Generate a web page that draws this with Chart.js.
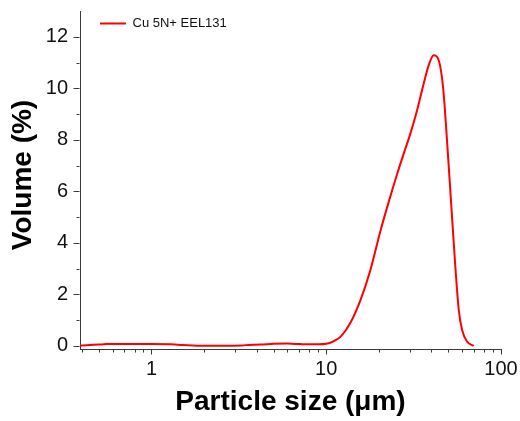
<!DOCTYPE html>
<html>
<head>
<meta charset="utf-8">
<script src="https://cdn.jsdelivr.net/npm/chart.js@4/dist/chart.umd.min.js"></script>
<style>
html,body{margin:0;padding:0;background:#fff;}
#wrap{position:relative;width:520px;height:421px;}
</style>
</head>
<body>
<div id="wrap"><canvas id="c"></canvas></div>
<script>
// Particle size (µm) and volume (%)
const sizes = [0.39, 0.5, 0.55, 0.7, 1.0, 1.3, 1.5, 2.0, 2.5, 3.3, 3.6, 4.2, 5.0, 6.0, 7.1, 8.0, 9.0, 10.0, 11.0, 12.1, 13.7, 15.7, 17.9, 20.4, 22.8, 25.5, 28.0, 30.3, 33.1, 36.1, 38.6, 41.2, 44.0, 46.6, 49.1, 52.0, 54.8, 57.3, 59.9, 63.9, 69.8];
const volume = [0.02, 0.05, 0.07, 0.07, 0.07, 0.06, 0.04, 0.01, 0.01, 0.02, 0.04, 0.05, 0.08, 0.09, 0.07, 0.06, 0.06, 0.08, 0.18, 0.36, 0.88, 1.78, 2.95, 4.45, 5.6, 6.69, 7.54, 8.24, 9.15, 10.18, 10.9, 11.28, 11.09, 10.05, 7.98, 5.4, 3.07, 1.4, 0.62, 0.17, 0.0];
const seriesName = 'Cu 5N+ EEL131';
const yTitle = 'Volume (%)';
const xTitle = 'Particle size (μm)';

const xMajorTicks = [1, 10, 100];
const xMinorTicks = [0.4, 0.5, 0.6, 0.7, 0.8, 0.9, 2, 3, 4, 5, 6, 7, 8, 9, 20, 30, 40, 50, 60, 70, 80, 90];
const yMajorTicks = [0, 2, 4, 6, 8, 10, 12];
const yMinorTicks = [1, 3, 5, 7, 9, 11];

const axisColor = '#3a3a3a';
const FONT = 'Liberation Sans, Arial, sans-serif';

const tickPlugin = {
  id: 'minorTicks',
  afterLayout(chart) {
    const lg = chart.legend;
    if (lg) {
      const dx = 100 - 6 - lg.left, dy = 24 - 6 - 7 - lg.top;
      lg.left += dx; lg.right += dx; lg.top += dy; lg.bottom += dy;
    }
  },
  afterDraw(chart) {
    const ctx = chart.ctx;
    const xs = chart.scales.x, ys = chart.scales.y;
    ctx.save();
    ctx.strokeStyle = axisColor;
    ctx.lineWidth = 1;
    ctx.beginPath();
    const by = xs.top + 0.5;
    xMajorTicks.forEach(v => { const p = Math.round(xs.getPixelForValue(v)) + 0.5; ctx.moveTo(p, by); ctx.lineTo(p, by + 5); });
    xMinorTicks.forEach(v => { const p = Math.round(xs.getPixelForValue(v)) + 0.5; ctx.moveTo(p, by); ctx.lineTo(p, by + 3); });
    const lx = ys.right - 0.5;
    yMajorTicks.forEach(v => { const p = Math.round(ys.getPixelForValue(v)) + 0.5; ctx.moveTo(lx, p); ctx.lineTo(lx - 6, p); });
    yMinorTicks.forEach(v => { const p = Math.round(ys.getPixelForValue(v)) + 0.5; ctx.moveTo(lx, p); ctx.lineTo(lx - 3, p); });
    ctx.stroke();
    // rotated y-axis title
    const ca = chart.chartArea;
    ctx.translate(23, (ca.top + ca.bottom) / 2 - 5);
    ctx.rotate(-Math.PI / 2);
    ctx.fillStyle = '#000';
    ctx.font = 'bold 28px ' + FONT;
    ctx.textAlign = 'center';
    ctx.textBaseline = 'middle';
    ctx.fillText(yTitle, 0, 0);
    ctx.restore();
  }
};

new Chart(document.getElementById('c'), {
  type: 'line',
  data: {
    datasets: [{
      label: seriesName,
      data: sizes.map((s, i) => ({x: s, y: volume[i]})),
      borderColor: '#ff0000',
      backgroundColor: '#ff0000',
      borderWidth: 2,
      pointRadius: 0,
      cubicInterpolationMode: 'monotone',
      fill: false
    }]
  },
  options: {
    responsive: true,
    maintainAspectRatio: false,
    animation: false,
    layout: { padding: { left: 0, top: 11, right: 19, bottom: 0 } },
    plugins: {
      legend: {
        position: 'chartArea',
        align: 'start',
        labels: {
          usePointStyle: true,
          pointStyle: 'line',
          pointStyleWidth: 26,
          color: '#111',
          font: { family: FONT, size: 13 },
          padding: 6
        }
      },
      tooltip: { enabled: false }
    },
    scales: {
      x: {
        type: 'logarithmic',
        min: 0.39,
        max: 100,
        afterBuildTicks: s => { s.ticks = xMajorTicks.map(v => ({value: v})); },
        afterFit: s => { s.height = 72; s.paddingLeft = 0; s.paddingRight = 0; },
        ticks: {
          autoSkip: false,
          maxRotation: 0,
          padding: 3,
          color: '#111',
          font: { family: FONT, size: 20 },
          callback: v => String(v)
        },
        grid: { display: true, drawOnChartArea: false, drawTicks: true, tickLength: 5, tickColor: 'rgba(0,0,0,0)' },
        border: { display: true, color: axisColor, width: 1 },
        title: {
          display: true,
          text: xTitle,
          color: '#000',
          font: { family: FONT, size: 28, weight: 'bold' },
          padding: { top: 0, bottom: 2 }
        }
      },
      y: {
        min: -0.12,
        max: 13,
        afterBuildTicks: s => { s.ticks = yMajorTicks.map(v => ({value: v})); },
        afterFit: s => { s.width = 80; s.paddingTop = 0; s.paddingBottom = 0; },
        ticks: {
          autoSkip: false,
          padding: 6,
          color: '#111',
          font: { family: FONT, size: 20 },
          callback: v => String(v)
        },
        grid: { display: true, drawOnChartArea: false, drawTicks: true, tickLength: 6, tickColor: 'rgba(0,0,0,0)' },
        border: { display: true, color: axisColor, width: 1 },
        title: { display: false }
      }
    }
  },
  plugins: [tickPlugin]
});
</script>
</body>
</html>
